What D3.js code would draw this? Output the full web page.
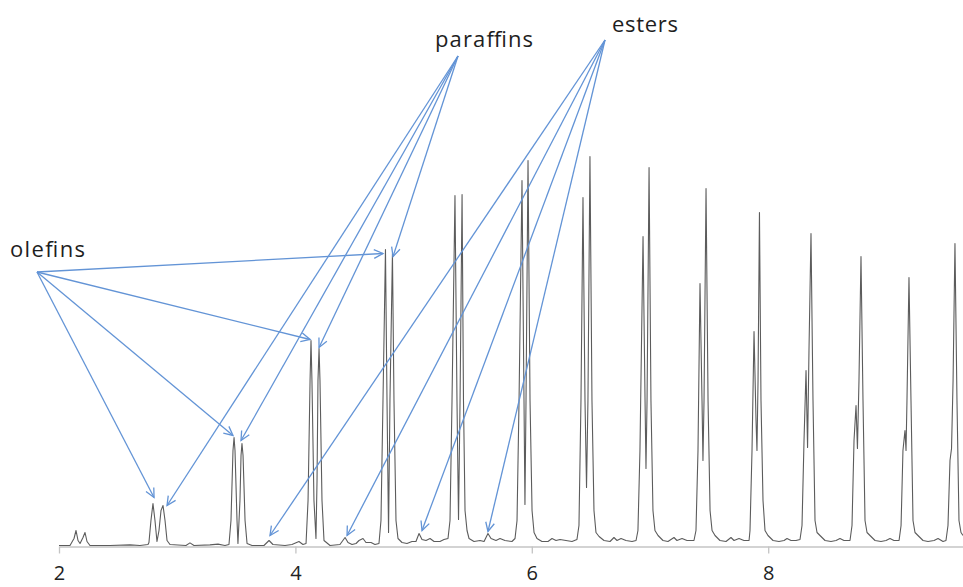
<!DOCTYPE html>
<html>
<head>
<meta charset="utf-8">
<script src="https://cdn.jsdelivr.net/npm/d3@7"></script>
<style>
  html, body { margin: 0; padding: 0; background: #fff; }
  svg { display: block; }
</style>
</head>
<body>
<svg id="chart" width="963" height="587"></svg>
<script>
// Retention time axis ticks (min)
const timeTicks = [2, 4, 6, 8];
const timeDomain = [2, 9.648];

// Detector trace: [retention time (min), relative signal]
const trace = [
  [2.000,0.25],[2.093,0.25],[2.127,2.0],[2.144,4.0],[2.161,1.5],[2.178,0.75],[2.203,2.25],[2.220,3.5],[2.237,1.25],[2.262,0.25],
  [2.431,0.25],[2.601,0.4],[2.685,0.25],[2.753,0.5],
  [2.761,1.0],[2.778,6.5],[2.795,10.75],[2.812,6.5],[2.829,1.25],[2.846,4.0],[2.863,9.0],[2.880,10.25],[2.897,6.5],[2.914,1.5],[2.939,0.5],
  [3.074,0.25],[3.108,0.9],[3.142,0.25],[3.277,0.4],[3.345,0.6],[3.404,0.25],
  [3.438,0.5],[3.455,6.5],[3.472,24.0],[3.481,27.25],[3.489,24.0],[3.506,6.5],[3.514,0.75],[3.531,11.5],[3.540,22.75],[3.548,25.75],[3.557,22.75],[3.574,6.5],[3.591,0.75],[3.633,0.25],
  [3.734,0.25],[3.777,1.5],[3.810,0.5],[3.912,0.25],[3.971,0.5],[4.030,1.25],[4.064,0.5],
  [4.090,0.75],[4.107,11.5],[4.124,41.5],[4.132,51.5],[4.140,41.5],[4.157,11.5],[4.174,2.0],[4.183,16.5],[4.191,41.5],[4.200,49.5],[4.208,41.5],[4.225,11.5],[4.242,1.5],[4.293,0.25],
  [4.377,0.5],[4.420,2.25],[4.445,1.0],[4.479,0.5],[4.513,0.75],[4.538,1.5],[4.572,2.0],[4.597,1.0],[4.640,1.0],[4.673,0.5],
  [4.707,0.75],[4.724,6.5],[4.741,36.5],[4.762,74.25],[4.775,36.5],[4.788,3.5],[4.800,36.5],[4.821,73.25],[4.834,36.5],[4.851,6.5],[4.868,2.0],
  [4.902,1.0],[4.944,0.75],[4.986,1.25],[5.020,1.25],[5.046,3.25],[5.071,1.75],[5.105,1.5],[5.139,2.0],[5.173,1.25],[5.223,1.25],[5.257,1.75],
  [5.291,2.0],[5.308,6.5],[5.325,36.5],[5.350,87.75],[5.367,36.5],[5.380,6.75],[5.393,36.5],[5.410,88.0],[5.422,36.5],[5.435,9.0],[5.452,4.0],[5.469,2.0],
  [5.511,1.25],[5.562,1.5],[5.596,1.25],[5.629,3.25],[5.655,2.0],[5.697,1.5],[5.731,2.0],[5.773,1.5],[5.832,1.25],
  [5.858,2.0],[5.875,6.5],[5.892,36.5],[5.917,91.5],[5.934,36.5],[5.942,10.5],[5.951,36.5],[5.968,96.5],[5.985,36.5],[6.002,9.0],[6.019,3.5],[6.044,2.0],
  [6.086,1.25],[6.137,1.25],[6.171,2.0],[6.205,1.5],[6.239,1.75],[6.289,1.5],[6.340,1.25],
  [6.382,1.75],[6.399,5.25],[6.416,36.5],[6.433,87.25],[6.450,36.5],[6.463,14.75],[6.475,36.5],[6.492,97.5],[6.509,36.5],[6.526,9.0],[6.543,3.5],[6.569,2.5],
  [6.611,1.5],[6.662,1.25],[6.695,2.25],[6.721,1.5],[6.755,2.0],[6.797,1.5],[6.848,1.25],[6.882,1.5],
  [6.898,4.0],[6.915,24.0],[6.941,77.5],[6.958,36.5],[6.966,19.5],[6.975,36.5],[6.992,94.75],[7.008,36.5],[7.025,9.0],[7.042,4.0],[7.068,2.75],
  [7.110,1.5],[7.152,1.25],[7.203,2.25],[7.228,1.5],[7.271,2.0],[7.313,1.5],[7.372,1.5],
  [7.389,4.0],[7.406,24.0],[7.423,65.75],[7.440,36.5],[7.448,21.5],[7.457,36.5],[7.474,89.5],[7.491,36.5],[7.508,9.0],[7.525,4.0],[7.550,2.75],
  [7.592,1.5],[7.643,1.25],[7.685,2.25],[7.711,1.5],[7.753,2.0],[7.795,1.5],[7.838,1.5],
  [7.846,4.0],[7.863,24.0],[7.880,53.75],[7.897,31.5],[7.905,24.0],[7.914,41.5],[7.926,83.5],[7.939,36.5],[7.956,11.5],[7.973,4.0],[7.998,2.75],
  [8.041,1.5],[8.091,1.25],[8.134,1.5],[8.159,2.0],[8.193,1.5],[8.235,1.5],[8.269,1.75],
  [8.286,5.25],[8.303,26.5],[8.320,44.0],[8.333,24.75],[8.345,49.0],[8.362,78.25],[8.379,36.5],[8.396,6.5],[8.413,3.5],[8.438,2.75],
  [8.481,1.5],[8.531,1.25],[8.574,1.5],[8.607,2.0],[8.641,1.5],[8.692,1.5],
  [8.709,5.25],[8.726,26.5],[8.743,35.25],[8.755,24.5],[8.768,41.5],[8.785,72.5],[8.802,36.5],[8.819,6.5],[8.836,3.5],[8.861,2.75],
  [8.904,1.5],[8.954,1.25],[8.997,1.5],[9.030,2.0],[9.064,1.5],[9.107,1.5],
  [9.124,5.25],[9.140,24.0],[9.157,29.0],[9.166,24.0],[9.174,36.5],[9.191,67.25],[9.208,36.5],[9.225,6.5],[9.242,3.5],[9.267,2.75],
  [9.310,1.5],[9.352,1.25],[9.403,1.5],[9.437,2.0],[9.479,1.25],[9.504,1.5],
  [9.521,5.25],[9.538,21.5],[9.551,24.5],[9.564,41.5],[9.580,75.75],[9.597,36.5],[9.614,6.5],[9.631,3.5],[9.648,2.75]
];

// Compound classes and the peaks each one labels: [time, signal]
const classNames = ["olefins", "paraffins", "esters"];
const olefinPeaks   = [[2.804,12.25],[3.472,27.75],[4.124,51.75],[4.741,73.25]];
const paraffinPeaks = [[2.914,10.25],[3.540,26.5],[4.200,49.75],[4.826,72.5]];
const esterPeaks    = [[3.785,2.75],[4.437,2.75],[5.071,4.0],[5.629,3.75]];

const svg = d3.select("#chart");

const x = d3.scaleLinear().domain(timeDomain).range([59, 963]);
const y = d3.scaleLinear().domain([0, 100]).range([546.5, 146.5]);

// Axis
const axis = d3.axisBottom(x)
  .tickValues(timeTicks)
  .tickFormat(d3.format("d"))
  .tickSize(7)
  .tickSizeOuter(0)
  .tickPadding(12);

const gAxis = svg.append("g")
  .attr("transform", `translate(0,${y(0)})`)
  .call(axis);
gAxis.select(".domain").attr("stroke", "#c4c4c4").attr("stroke-width", 1.3);
gAxis.selectAll(".tick line").attr("stroke", "#c4c4c4").attr("stroke-width", 1.3);
gAxis.selectAll(".tick text")
  .attr("fill", "#222")
  .style("font-family", "'Open Sans', sans-serif")
  .style("font-size", "20px");

// Chromatogram trace
const line = d3.line().x(d => x(d[0])).y(d => y(d[1]));
svg.append("path")
  .datum(trace)
  .attr("fill", "none")
  .attr("stroke", "#5c5c5c")
  .attr("stroke-width", 1.1)
  .attr("stroke-linejoin", "round")
  .attr("d", line);

// Annotation labels with leader arrows
const labels = [
  { name: classNames[0], tx: 10,  ty: 257, len: 75, ox: 37,  oy: 272, peaks: olefinPeaks },
  { name: classNames[1], tx: 435, ty: 47,  len: 98, ox: 458, oy: 56,  peaks: paraffinPeaks },
  { name: classNames[2], tx: 612, ty: 32,  len: 66, ox: 605, oy: 40,  peaks: esterPeaks }
];

const arrowColor = "#6394d6";
const headLen = 10, headAng = 26 * Math.PI / 180;

const gAnn = svg.append("g");
labels.forEach(l => {
  gAnn.append("text")
    .attr("x", l.tx).attr("y", l.ty)
    .attr("textLength", l.len)
    .attr("lengthAdjust", "spacing")
    .attr("fill", "#1e1e1e")
    .style("font-family", "'Open Sans', sans-serif")
    .style("font-size", "22px")
    .text(l.name);

  l.peaks.forEach(p => {
    const ex = x(p[0]), ey = y(p[1]);
    const a = Math.atan2(ey - l.oy, ex - l.ox);
    gAnn.append("line")
      .attr("x1", l.ox).attr("y1", l.oy)
      .attr("x2", ex).attr("y2", ey)
      .attr("stroke", arrowColor).attr("stroke-width", 1.3);
    const w1 = [ex - headLen * Math.cos(a - headAng), ey - headLen * Math.sin(a - headAng)];
    const w2 = [ex - headLen * Math.cos(a + headAng), ey - headLen * Math.sin(a + headAng)];
    gAnn.append("path")
      .attr("d", `M${w1[0]},${w1[1]}L${ex},${ey}L${w2[0]},${w2[1]}`)
      .attr("fill", "none")
      .attr("stroke", arrowColor)
      .attr("stroke-width", 1.3)
      .attr("stroke-linejoin", "miter");
  });
});
</script>
</body>
</html>
